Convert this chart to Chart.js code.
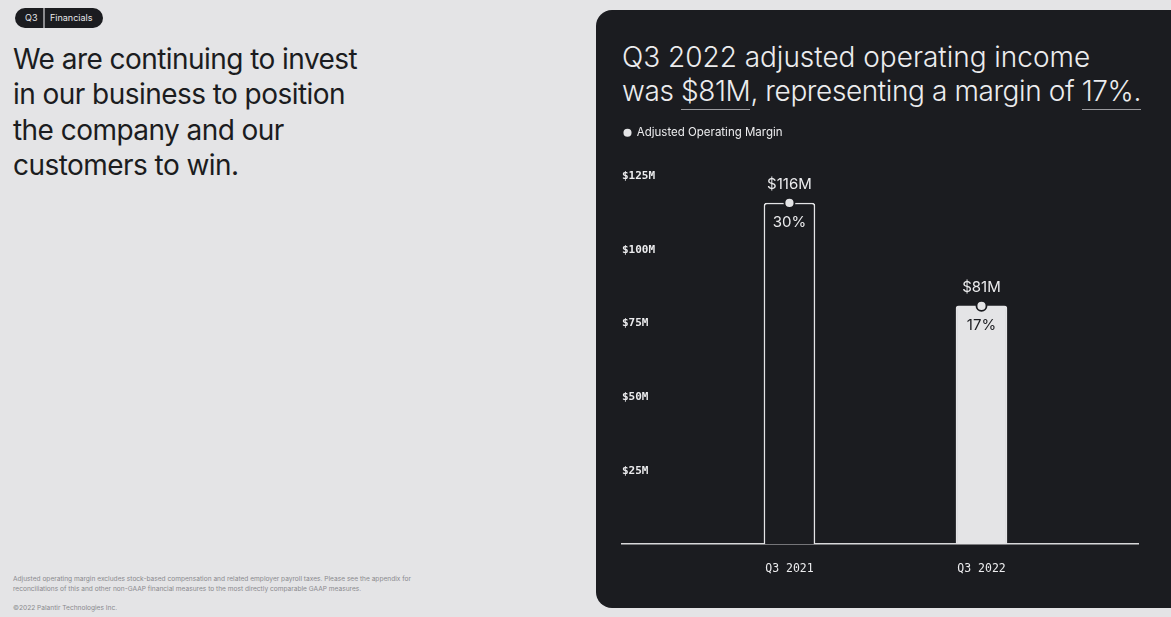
<!DOCTYPE html>
<html>
<head>
<meta charset="utf-8">
<script src="https://cdn.jsdelivr.net/npm/chart.js@4.4.0/dist/chart.umd.min.js"></script>
<style>
  html, body { margin:0; padding:0; }
  body { width:1171px; height:617px; background:#e4e4e6; position:relative; overflow:hidden; font-family:Inter, "Noto Sans", sans-serif; }
  .badge { position:absolute; left:15px; top:8px; height:20px; width:88px; background:#1b1c20; border-radius:10px; color:#e8e8ea; font-size:9px; line-height:20px; }
  .badge .q { position:absolute; left:10px; }
  .badge .sep { position:absolute; left:28px; top:0; width:1.5px; height:20px; background:#8a8a8e; }
  .badge .f { position:absolute; left:35px; }
  .heading { position:absolute; left:13px; top:42px; font-size:28px; line-height:35.3px; color:#1b1c20; font-weight:400; letter-spacing:-0.55px; }
  .foot { position:absolute; left:13px; top:574px; font-size:6.6px; line-height:10px; color:#8a8a8e; }
  .copy { position:absolute; left:13px; top:604px; font-size:6.6px; color:#8a8a8e; }
  .panel { position:absolute; left:596px; top:10px; width:600px; height:598px; background:#1b1c20; border-radius:16px; }
  .title { position:absolute; left:622px; top:40px; font-size:28px; line-height:34px; color:#ececee; font-weight:300; letter-spacing:-0.3px; white-space:nowrap; }
  .title .l1 { letter-spacing:-0.02px; }
  .title .l2 { letter-spacing:-0.4px; }
  .title u { text-decoration:none; border-bottom:1.2px solid #9a9a9e; padding-bottom:1px; }
  .chartbox { position:absolute; left:596px; top:125px; width:575px; height:483px; }
</style>
</head>
<body>
<div class="badge"><span class="q">Q3</span><span class="sep"></span><span class="f">Financials</span></div>
<div class="heading">We are continuing to invest<br>in our business to position<br>the company and our<br>customers to win.</div>
<div class="foot">Adjusted operating margin excludes stock-based compensation and related employer payroll taxes. Please see the appendix for<br>reconciliations of this and other non-GAAP financial measures to the most directly comparable GAAP measures.</div>
<div class="copy">©2022 Palantir Technologies Inc.</div>
<div class="panel"></div>
<div class="title"><span class="l1">Q3 2022 adjusted operating income</span><br><span class="l2">was <u>$81M</u>, representing a margin of <u>17%.</u></span></div>
<div class="chartbox"><canvas id="c"></canvas></div>
<script>
const categories = ["Q3 2021", "Q3 2022"];
const incomeValues = [116, 81];          // $M
const marginValues = [30, 17];           // %
const yTicks = [25, 50, 75, 100, 125];

const LIGHT = "#e4e4e6";
const DARK = "#1b1c20";
const TEXT = "#ececee";

const legendMargin = {
  id: "legendMargin",
  beforeInit(chart) {
    const fit = chart.legend.fit;
    chart.legend.fit = function () { fit.bind(chart.legend)(); this.height += 28; };
  }
};

const labelsPlugin = {
  id: "valueLabels",
  afterDatasetsDraw(chart) {
    const ctx = chart.ctx;
    const meta = chart.getDatasetMeta(0);
    ctx.save();
    ctx.font = "15px Inter, 'Noto Sans', sans-serif";
    ctx.textAlign = "center";
    ctx.textBaseline = "middle";
    meta.data.forEach((bar, i) => {
      ctx.fillStyle = TEXT;
      ctx.fillText("$" + incomeValues[i] + "M", bar.x, bar.y - 18);
      ctx.fillStyle = i === 0 ? TEXT : DARK;
      ctx.fillText(marginValues[i] + "%", bar.x, bar.y + 20);
    });
    ctx.restore();
  }
};

new Chart(document.getElementById("c"), {
  data: {
    datasets: [
      {
        type: "bar",
        label: "Adjusted Operating Income",
        data: incomeValues.map((v, i) => ({ x: i + 1, y: v })),
        backgroundColor: [DARK, LIGHT],
        borderColor: LIGHT,
        borderWidth: 1.5,
        borderRadius: { topLeft: 3, topRight: 3 },
        borderSkipped: "bottom",
        barThickness: 51,
        order: 2
      },
      {
        type: "line",
        label: "Adjusted Operating Margin",
        data: incomeValues.map((v, i) => ({ x: i + 1, y: v })),
        showLine: false,
        pointRadius: 5,
        pointHoverRadius: 5,
        pointBackgroundColor: LIGHT,
        pointBorderColor: DARK,
        pointBorderWidth: 1.8,
        order: 1
      }
    ]
  },
  options: {
    responsive: true,
    maintainAspectRatio: false,
    animation: false,
    layout: { padding: { left: 26, right: 33, top: 0, bottom: 14 } },
    plugins: {
      legend: {
        position: "top",
        align: "start",
        labels: {
          filter: (item) => item.datasetIndex === 1,
          usePointStyle: true,
          pointStyle: "circle",
          boxWidth: 7,
          boxHeight: 7,
          padding: 2,
          color: TEXT,
          font: { family: "Inter, 'Noto Sans', sans-serif", size: 11.5 }
        }
      },
      tooltip: { enabled: false }
    },
    scales: {
      x: {
        type: "linear",
        offset: false,
        min: 0.128,
        max: 2.815,
        grid: { display: false, drawTicks: false, offset: false },
        border: { display: true, color: "#d8d8da", width: 1.5 },
        afterBuildTicks: (scale) => { scale.ticks = categories.map((c, i) => ({ value: i + 1 })); },
        ticks: {
          padding: 18,
          color: TEXT,
          font: { family: "'DejaVu Sans Mono', monospace", size: 11.5 },
          callback: (v) => categories[Math.round(v) - 1] || ""
        }
      },
      y: {
        min: 0,
        max: 125,
        grid: { display: false, drawTicks: false },
        border: { display: false },
        afterBuildTicks: (scale) => { scale.ticks = yTicks.map(v => ({ value: v })); },
        ticks: {
          mirror: true,
          padding: 0,
          color: TEXT,
          font: { family: "'DejaVu Sans Mono', monospace", size: 11, weight: "bold" },
          callback: (v) => "$" + v + "M"
        }
      }
    }
  },
  plugins: [legendMargin, labelsPlugin]
});
</script>
</body>
</html>
